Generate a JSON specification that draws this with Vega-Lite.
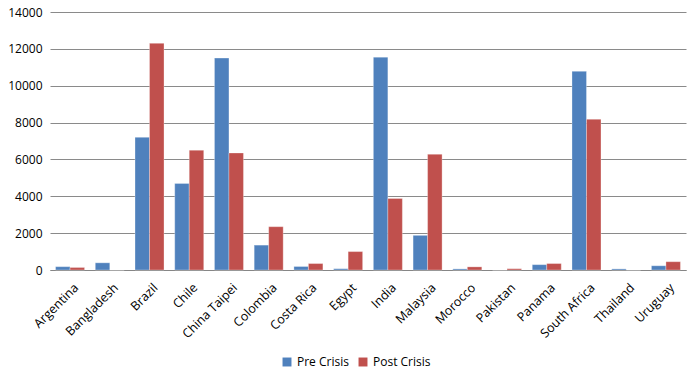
{
  "$schema": "https://vega.github.io/schema/vega-lite/v6.json",
  "width": 636,
  "height": 258,
  "autosize": {"type": "none"},
  "padding": {"left": 50, "top": 12, "right": 9, "bottom": 110},
  "background": "white",
  "config": {
    "font": "Open Sans",
    "view": {"stroke": null},
    "axis": {"labelFont": "Open Sans", "labelColor": "#000000", "labelFontSize": 11}
  },
  "data": {
    "values": [
      {"country": "Argentina", "series": "Pre Crisis", "value": 180},
      {"country": "Argentina", "series": "Post Crisis", "value": 130},
      {"country": "Bangladesh", "series": "Pre Crisis", "value": 390},
      {"country": "Bangladesh", "series": "Post Crisis", "value": 0},
      {"country": "Brazil", "series": "Pre Crisis", "value": 7200},
      {"country": "Brazil", "series": "Post Crisis", "value": 12300},
      {"country": "Chile", "series": "Pre Crisis", "value": 4700},
      {"country": "Chile", "series": "Post Crisis", "value": 6500},
      {"country": "China Taipei", "series": "Pre Crisis", "value": 11500},
      {"country": "China Taipei", "series": "Post Crisis", "value": 6350},
      {"country": "Colombia", "series": "Pre Crisis", "value": 1350},
      {"country": "Colombia", "series": "Post Crisis", "value": 2350},
      {"country": "Costa Rica", "series": "Pre Crisis", "value": 190},
      {"country": "Costa Rica", "series": "Post Crisis", "value": 350},
      {"country": "Egypt", "series": "Pre Crisis", "value": 70},
      {"country": "Egypt", "series": "Post Crisis", "value": 1000},
      {"country": "India", "series": "Pre Crisis", "value": 11550},
      {"country": "India", "series": "Post Crisis", "value": 3880},
      {"country": "Malaysia", "series": "Pre Crisis", "value": 1880},
      {"country": "Malaysia", "series": "Post Crisis", "value": 6280},
      {"country": "Morocco", "series": "Pre Crisis", "value": 60},
      {"country": "Morocco", "series": "Post Crisis", "value": 170},
      {"country": "Pakistan", "series": "Pre Crisis", "value": 0},
      {"country": "Pakistan", "series": "Post Crisis", "value": 70},
      {"country": "Panama", "series": "Pre Crisis", "value": 290},
      {"country": "Panama", "series": "Post Crisis", "value": 350},
      {"country": "South Africa", "series": "Pre Crisis", "value": 10780},
      {"country": "South Africa", "series": "Post Crisis", "value": 8180},
      {"country": "Thailand", "series": "Pre Crisis", "value": 60},
      {"country": "Thailand", "series": "Post Crisis", "value": 0},
      {"country": "Uruguay", "series": "Pre Crisis", "value": 230},
      {"country": "Uruguay", "series": "Post Crisis", "value": 450}
    ]
  },
  "mark": {"type": "bar", "stroke": "white", "strokeWidth": 0.5, "strokeOpacity": 0.6},
  "encoding": {
    "x": {
      "field": "country",
      "type": "nominal",
      "sort": null,
      "title": null,
      "scale": {"paddingInner": 0.27, "paddingOuter": 0.14},
      "axis": {
        "labelAngle": -45,
        "labelAlign": "right",
        "labelBaseline": "top",
        "labelFontSize": 12.5,
        "labelPadding": 11,
        "labelOffset": 2,
        "domainColor": "#868686",
        "ticks": false
      }
    },
    "xOffset": {"field": "series", "type": "nominal", "sort": ["Pre Crisis", "Post Crisis"]},
    "y": {
      "field": "value",
      "type": "quantitative",
      "title": null,
      "scale": {"domain": [0, 14000], "nice": false},
      "axis": {
        "values": [0, 2000, 4000, 6000, 8000, 10000, 12000, 14000],
        "format": "d",
        "domain": false,
        "ticks": false,
        "labelPadding": 8,
        "labelFontSize": 12,
        "gridColor": "#8a8a8a",
        "gridWidth": 1
      }
    },
    "color": {
      "field": "series",
      "type": "nominal",
      "scale": {"domain": ["Pre Crisis", "Post Crisis"], "range": ["#4F81BD", "#C0504D"]},
      "legend": {
        "title": null,
        "orient": "none",
        "direction": "horizontal",
        "legendX": 231,
        "legendY": 344,
        "symbolType": "square",
        "symbolSize": 80,
        "symbolStrokeWidth": 0,
        "labelFontSize": 12,
        "labelOffset": 4,
        "labelFont": "Open Sans",
        "columnPadding": 8
      }
    }
  }
}
